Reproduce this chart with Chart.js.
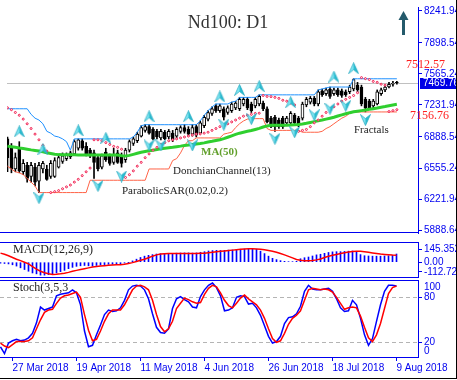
<!DOCTYPE html>
<html><head><meta charset="utf-8">
<script src="https://cdn.jsdelivr.net/npm/chart.js@4.4.0/dist/chart.umd.min.js"></script>
<style>
body{margin:0;background:#fff;}
#wrap{position:relative;width:457px;height:380px;overflow:hidden;background:#fff}
#wrap canvas{position:absolute;left:0}
#frame{position:absolute;left:0;top:0;width:456px;height:378px;border-right:1px solid #000;border-bottom:1px solid #000;pointer-events:none}
</style></head>
<body><div id="wrap">
<canvas id="cMain" width="457" height="240" style="top:0"></canvas>
<canvas id="cMacd" width="457" height="36" style="top:242px"></canvas>
<canvas id="cStoch" width="457" height="100" style="top:280px"></canvas>
<div id="frame"></div>
</div>
<script>
// ---------- categories (trading days) ----------
const dates = (() => {
  const M = ['Jan','Feb','Mar','Apr','May','Jun','Jul','Aug','Sep','Oct','Nov','Dec'];
  const holidays = ['2018-03-30'];
  const out = []; const d = new Date(Date.UTC(2018, 2, 22));
  while (out.length < 100) {
    const wd = d.getUTCDay(), iso = d.toISOString().slice(0, 10);
    if (wd !== 0 && wd !== 6 && !holidays.includes(iso)) out.push(d.getUTCDate() + ' ' + M[d.getUTCMonth()] + ' ' + d.getUTCFullYear());
    d.setUTCDate(d.getUTCDate() + 1);
  }
  return out;
})();
const xTickLabels = ['27 Mar 2018','19 Apr 2018','11 May 2018','4 Jun 2018','26 Jun 2018','18 Jul 2018','9 Aug 2018'];
const priceTicks = [8241.94, 7898.54, 7565.24, 7231.94, 6888.54, 6555.24, 6221.94, 5888.64];
const macdTicks = [145.352, 0, -112.727];
const macdTickLabels = ['145.352', '0.00', '-112.727'];
const stochTicks = [80, 20];
const stochLevels = [80, 20];

// ---------- OHLC ----------
const opens = [6868,6767,6545,6767,6515,6585,6464,6565,6414,6545,6545,6464,6464,6565,6626,6656,6676,6706,6767,6848,
6787,6747,6717,6666,6565,6727,6686,6616,6717,6686,6646,6747,6818,6848,6898,6959,6999,6969,6949,6878,
6939,6888,6929,6898,6949,6989,6969,6919,6999,6929,7009,7080,7141,7222,7171,7191,7151,7171,7201,7191,
7242,7292,7242,7222,7242,7252,7191,7090,7100,7070,7090,7040,7040,7120,7090,7090,7232,7262,7302,7242,
7383,7353,7403,7353,7393,7383,7373,7373,7403,7444,7424,7292,7272,7222,7242,7353,7393,7424,7454,7475];
const highs = [6888,6818,6717,6838,6646,6616,6616,6605,6616,6626,6585,6636,6666,6696,6717,6717,6737,6858,6868,6868,
6828,6767,6747,6696,6706,6767,6706,6767,6747,6717,6767,6858,6888,6939,7009,7020,7020,6989,6969,6969,
6959,6969,6959,6989,7009,7020,6999,7020,7020,7060,7120,7171,7211,7242,7242,7211,7222,7262,7272,7313,
7313,7313,7262,7313,7340,7272,7211,7110,7120,7090,7110,7110,7161,7141,7110,7262,7313,7323,7323,7393,
7403,7414,7424,7414,7414,7403,7393,7444,7512.57,7474,7444,7313,7292,7292,7393,7414,7444,7474,7484,7484];
const lows = [6515,6504,6515,6504,6484,6404,6404,6363,6292,6504,6424,6444,6454,6555,6605,6636,6656,6696,6747,6747,
6686,6666,6444,6525,6545,6626,6585,6595,6605,6565,6616,6727,6797,6828,6888,6939,6919,6858,6868,6858,
6858,6868,6838,6878,6929,6929,6898,6898,6888,6919,6989,7060,7120,7151,7151,7070,7131,7151,7181,7171,
7222,7181,7151,7201,7222,7171,7040,6989,6949,6979,6979,7020,7020,7020,6999,7070,7212,7242,7222,7222,
7323,7333,7302,7333,7323,7313,7323,7353,7383,7373,7222,7156.76,7191,7201,7232,7333,7373,7414,7434,7454];
const closes = [6666,6545,6666,6525,6605,6444,6585,6403,6585,6605,6434,6605,6636,6666,6686,6696,6717,6838,6858,6767,
6706,6686,6616,6545,6686,6646,6605,6696,6616,6605,6747,6838,6868,6919,6989,6999,6929,6868,6888,6949,
6868,6949,6858,6969,6989,6949,6919,6989,6908,7040,7100,7151,7191,7171,7222,7100,7201,7242,7252,7292,
7292,7201,7171,7292,7323,7191,7050,6999,6999,6999,6999,7090,7141,7040,7020,7242,7292,7302,7242,7373,
7343,7393,7323,7393,7343,7333,7343,7424,7504,7393,7242,7201,7201,7272,7373,7393,7424,7454,7464,7469.76];

// ---------- indicators on price ----------
const ma50 = [6790,6784,6777,6770,6764,6757,6750,6744,6737,6730,6720,6712,6704,6699,6697,6697,6697,6697,6696,6696,
6696,6695,6695,6695,6695,6694,6694,6694,6694,6686,6683,6691,6702,6714,6724,6732,6740,6747,6754,6761,
6767,6773,6778,6784,6790,6797,6802,6808,6814,6819,6825,6834,6842,6851,6859,6870,6885,6901,6916,6929,
6939,6949,6957,6969,6981,6995,7007,7013,7013,7013,7013,7014,7017,7020,7023,7027,7035,7044,7053,7061,
7070,7080,7090,7100,7113,7125,7137,7149,7159,7165,7171,7177,7185,7192,7199,7208,7215,7223,7231,7239];
const donchUpper = [7191,7191,7191,7191,7191,7191,7131,7090,7070,7030,6949,6929,6898,6888,6868,6838,6747,6868,6868,6868,
6868,6868,6868,6868,6868,6868,6868,6868,6868,6868,6868,6868,6888,6939,7009,7020,7020,7020,7020,7020,
7020,7020,7020,7020,7020,7020,7020,7020,7020,7060,7120,7171,7211,7242,7242,7242,7242,7262,7272,7313,
7313,7313,7313,7313,7340,7340,7340,7340,7340,7340,7340,7340,7340,7340,7340,7340,7340,7340,7340,7393,
7403,7414,7424,7424,7424,7424,7424,7424,7512.57,7512.57,7512.57,7512.57,7512.57,7512.57,7512.57,7512.57,7512.57,7512.57,7512.57,7512.57];
const donchLower = [6575,6545,6515,6504,6484,6444,6404,6363,6292,6292,6292,6292,6292,6292,6292,6292,6292,6292,6292,6292,
6292,6424,6424,6424,6424,6424,6424,6424,6424,6424,6424,6424,6424,6424,6424,6424,6545,6545,6545,6545,
6545,6545,6636,6656,6717,6797,6848,6848,6878,6878,6878,6878,6878,6878,6878,6919,6929,6939,6989,7030,
7060,7080,7085,7085,7085,7085,6979,6959,6959,6959,6959,6959,6959,6959,6959,6939,6939,6939,6939,6939,
6949,6979,6999,7030,7060,7090,7110,7141,7156.76,7156.76,7156.76,7156.76,7156.76,7156.76,7156.76,7156.76,7156.76,7156.76,7156.76,7156.76];
const sar = [7201,7181,7151,7121,7080,7030,6979,6919,6858,6797,6737,6292,6302,6313,6333,6353,6373,6404,6434,6474,
6515,6555,6858,6858,6848,6828,6808,6787,6777,6757,6454,6484,6525,6575,6616,6666,6707,6747,6777,6808,
6828,6848,6858,6868,6878,6888,6898,6909,6919,6921,6929,6939,6959,6979,6999,7010,7030,7050,7070,7090,
7111,7121,7131,7141,7143,7333,7323,7321,7313,7302,7282,7272,7252,7232,6949,6959,6969,6999,7040,7070,
7111,7151,7181,7212,7242,7272,7292,7313,7333,7363,7525,7514,7504,7484,7474,7454,7444,7161,7171,7181];
const fractalUpBars = [3,9,18,25,36,46,54,59,64,72,83,88];
const fractalUpVals = [6949,6757,6959,6878,7110,7110,7323,7393,7434,7262,7535,7626];
const fractalDnBars = [8,23,29,36,39,47,55,62,68,73,78,82,86,91];
const fractalDnVals = [6232,6363,6464,6797,6797,6797,7020,7080,6868,6939,7121,7191,7222,7070];

// ---------- MACD ----------
const macdHist = [-10,-15,-20,-30,-45,-65,-85,-105,-125,-135,-150,-150,-145,-135,-125,-110,-95,-75,-60,-48,
-42,-38,-42,-45,-38,-32,-28,-25,-24,-22,-18,-10,-2,15,35,55,70,80,88,95,
98,100,100,102,105,107,108,108,106,108,115,122,130,135,138,136,137,140,142,147,
150,152,150,150,150,128,100,70,45,30,18,10,6,6,10,40,52,60,72,85,
92,103,113,120,122,122,125,128,130,115,88,75,72,70,70,70,72,75,80,95];
const macdSignal = [105,92,75,55,35,18,0,-20,-50,-80,-105,-122,-135,-142,-140,-135,-128,-118,-106,-95,
-85,-75,-66,-57,-50,-44,-40,-36,-33,-31,-29,-24,-15,-5,8,22,35,52,70,85,
95,99,100,101,101,101,101,102,102,102,103,105,110,116,122,127,131,135,140,145,
150,153,155,155,154,150,145,137,128,115,100,85,68,50,32,22,18,18,20,27,
38,55,68,80,90,100,110,118,125,128,127,122,115,108,102,95,90,86,83,82];

// ---------- Stochastic ----------
const stochK = [14,5,19,22,24,22,23,26,32,46,67,63,65,67,82,84,85,86,90,86,
70,35,14,16,30,43,57,63,61,62,66,76,90,95,96,95,90,78,58,40,
33,32,38,65,78,81,77,74,67,66,81,90,96,99,93,82,62,63,66,80,
82,81,71,72,66,56,42,28,19,21,28,45,53,54,58,68,88,96,91,90,
90,91,92,88,78,66,61,62,76,70,52,30,16,25,48,70,88,96,96,95];
const stochD = [19,15,13,17,21,21,21,22,26,38,50,60,63,64,72,79,82,83,85,87,
80,57,36,22,24,35,48,58,63,63,63,70,80,90,95,96,94,90,76,57,
41,34,38,48,65,72,79,77,74,72,73,84,92,96,94,86,76,69,66,72,
79,83,78,74,70,63,52,38,25,20,22,32,44,52,56,62,76,90,92,91,
90,91,90,87,80,72,64,66,67,66,55,40,26,21,30,45,65,85,93,95];

// ---------- helpers ----------
const N = dates.length;
const XMIN = -0.125, XMAX = -0.125 + 418 / 4;
const AXW = 39;
const BLUE = '#0000f0';
const TICKFONT = {family: 'Liberation Sans', size: 10};
const pts = arr => arr.map((v, i) => ({x: i, y: v}));
const sparse = (bars, vals) => bars.map((b, k) => ({x: b, y: vals[k]}));
const fitY = s => { s.width = AXW; s.paddingTop = 0; s.paddingBottom = 0; };
const xHidden = {type: 'linear', min: XMIN, max: XMAX, offset: false, grid: {offset: false}, display: false};
const base = {responsive: false, animation: false, events: [], layout: {padding: 0},
  plugins: {legend: {display: false}, tooltip: {enabled: false}}};

function fractalIcon(up) {
  const c = document.createElement('canvas'); c.width = 11; c.height = 12;
  const g = c.getContext('2d');
  g.save();
  if (!up) { g.translate(0, 12); g.scale(1, -1); }
  g.beginPath(); g.moveTo(5.5, 0.5); g.lineTo(10.5, 11.5); g.lineTo(5.5, 7.5); g.lineTo(0.5, 11.5); g.closePath();
  g.fillStyle = '#7fe6f2'; g.fill();
  g.beginPath(); g.moveTo(5.5, 0.5); g.lineTo(10.5, 11.5); g.lineTo(5.5, 7.5); g.closePath();
  g.fillStyle = '#2cbcd0'; g.fill();
  g.beginPath(); g.moveTo(5.5, 0.5); g.lineTo(10.5, 11.5); g.lineTo(5.5, 7.5); g.lineTo(0.5, 11.5); g.closePath();
  g.strokeStyle = '#22a8bf'; g.lineWidth = 0.7; g.stroke();
  g.restore();
  return c;
}

// ---------- MAIN ----------
const mainDecor = {
  id: 'mainDecor',
  beforeDatasetsDraw(chart) {
    const {ctx, chartArea: a, scales: {y}} = chart;
    const py = Math.round(y.getPixelForValue(closes[N - 1])) + 0.5;
    ctx.save(); ctx.strokeStyle = '#c0c0c0'; ctx.lineWidth = 1;
    ctx.beginPath(); ctx.moveTo(a.left, py); ctx.lineTo(a.right, py); ctx.stroke(); ctx.restore();
  },
  afterDraw(chart) {
    const {ctx, chartArea: a, scales: {y}} = chart;
    ctx.save();
    ctx.strokeStyle = BLUE; ctx.lineWidth = 1;
    ctx.beginPath(); ctx.moveTo(0, a.bottom - 0.5); ctx.lineTo(a.right, a.bottom - 0.5); ctx.stroke();
    ctx.fillStyle = '#333'; ctx.font = '18px "Liberation Serif"'; ctx.textAlign = 'center'; ctx.textBaseline = 'middle';
    ctx.fillText('Nd100: D1', 228, 23);
    ctx.fillStyle = '#245a6b';
    ctx.beginPath(); ctx.moveTo(403.5, 11); ctx.lineTo(408.5, 20); ctx.lineTo(398.5, 20); ctx.closePath(); ctx.fill();
    ctx.fillRect(402, 19, 3, 16);
    ctx.textAlign = 'left';
    ctx.font = 'bold 11px "Liberation Serif"'; ctx.fillStyle = '#62a02c';
    ctx.fillText('MA(50)', 201, 152);
    ctx.font = '11px "Liberation Serif"'; ctx.fillStyle = '#222';
    ctx.fillText('DonchianChannel(13)', 173, 171);
    ctx.fillText('ParabolicSAR(0.02,0.2)', 122, 191);
    ctx.fillText('Fractals', 354, 130);
    ctx.font = '12px "Liberation Serif"'; ctx.fillStyle = '#ff2020';
    const up = donchUpper[N - 1], lo = donchLower[N - 1];
    ctx.fillText(up.toFixed(2), 406, y.getPixelForValue(up) - 14);
    ctx.fillText(lo.toFixed(2), 410, y.getPixelForValue(lo) + 4);
    const pc = y.getPixelForValue(closes[N - 1]);
    ctx.fillStyle = '#0000e6'; ctx.fillRect(420, Math.round(pc) - 5, 37, 11);
    ctx.fillStyle = '#fff'; ctx.font = '10px "Liberation Sans"';
    ctx.fillText(closes[N - 1].toFixed(2), 423, Math.round(pc) + 0.5);
    ctx.restore();
  }
};

new Chart(document.getElementById('cMain'), {
  type: 'bar',
  data: {datasets: [
    {type: 'scatter', label: 'FractalsUp', data: sparse(fractalUpBars, fractalUpVals), pointStyle: fractalIcon(true), pointRadius: 6, order: 0},
    {type: 'scatter', label: 'FractalsDn', data: sparse(fractalDnBars, fractalDnVals), pointStyle: fractalIcon(false), pointRadius: 6, order: 0},
    {type: 'scatter', label: 'SAR', data: pts(sar), pointStyle: 'circle', pointRadius: 1, borderWidth: 1, borderColor: '#f0184a', backgroundColor: '#fff', order: 1},
    {type: 'line', label: 'MA50', data: pts(ma50), borderColor: '#2fcf2f', borderWidth: 3, pointRadius: 0, tension: 0, order: 2},
    {type: 'line', label: 'DonchUp', data: pts(donchUpper), borderColor: '#1e90ff', borderWidth: 1, pointRadius: 0, tension: 0, order: 3},
    {type: 'line', label: 'DonchLo', data: pts(donchLower), borderColor: '#ff6347', borderWidth: 1, pointRadius: 0, tension: 0, order: 3},
    {type: 'bar', label: 'Body', data: opens.map((o, i) => ({x: i, y: [o, closes[i]]})), barThickness: 3, grouped: false,
      backgroundColor: opens.map((o, i) => closes[i] >= o ? '#fff' : '#000'), borderColor: '#000', borderWidth: 1, borderSkipped: false, order: 5},
    {type: 'bar', label: 'Wick', data: lows.map((l, i) => ({x: i, y: [l, highs[i]]})), barThickness: 1, grouped: false,
      backgroundColor: '#000', borderWidth: 0, order: 6}
  ]},
  options: Object.assign({}, base, {
    scales: {
      x: xHidden,
      y: {position: 'right', min: 5858.34, max: 8282.34, afterFit: fitY,
        afterBuildTicks: s => { s.ticks = priceTicks.map(v => ({value: v})); },
        ticks: {autoSkip: false, padding: 2, color: BLUE, font: TICKFONT, callback: v => v.toFixed(2)},
        grid: {drawOnChartArea: false, tickLength: 4, color: BLUE}, border: {color: BLUE}}
    }
  }),
  plugins: [mainDecor]
});

// ---------- MACD ----------
const panelDecor = (title, ty) => ({
  id: 'panelDecor',
  afterDraw(chart) {
    const {ctx, chartArea: a} = chart;
    ctx.save(); ctx.strokeStyle = BLUE; ctx.lineWidth = 1;
    ctx.beginPath(); ctx.moveTo(0, a.top + 0.5); ctx.lineTo(a.right, a.top + 0.5);
    ctx.moveTo(0, a.bottom - 0.5); ctx.lineTo(a.right, a.bottom - 0.5); ctx.stroke();
    ctx.fillStyle = '#222'; ctx.font = '12px "Liberation Serif"'; ctx.textBaseline = 'middle'; ctx.textAlign = 'left';
    ctx.fillText(title, 13, ty);
    ctx.restore();
  }
});
new Chart(document.getElementById('cMacd'), {
  type: 'bar',
  data: {datasets: [
    {type: 'line', label: 'Signal', data: pts(macdSignal), borderColor: '#ff0000', borderWidth: 1.5, pointRadius: 0, tension: 0, order: 0},
    {type: 'bar', label: 'MACD', data: pts(macdHist), barThickness: 1, backgroundColor: '#0000ff', borderWidth: 0, order: 1}
  ]},
  options: Object.assign({}, base, {
    scales: {
      x: xHidden,
      y: {position: 'right', min: -183.3, max: 234.3, afterFit: fitY,
        afterBuildTicks: s => { s.ticks = macdTicks.map(v => ({value: v})); },
        ticks: {autoSkip: false, padding: 2, color: BLUE, font: TICKFONT, callback: v => macdTickLabels[macdTicks.indexOf(v)]},
        grid: {drawOnChartArea: false, tickLength: 4, color: BLUE}, border: {color: BLUE}}
    }
  }),
  plugins: [panelDecor('MACD(12,26,9)', 8)]
});

// ---------- Stochastic ----------
const stochDecor = {
  id: 'stochDecor',
  beforeDatasetsDraw(chart) {
    const {ctx, chartArea: a, scales: {y}} = chart;
    ctx.save(); ctx.strokeStyle = '#b4b4b4'; ctx.lineWidth = 1; ctx.setLineDash([4, 3]);
    stochLevels.forEach(l => { const p = Math.round(y.getPixelForValue(l)) + 0.5;
      ctx.beginPath(); ctx.moveTo(a.left, p); ctx.lineTo(a.right, p); ctx.stroke(); });
    ctx.restore();
  },
  afterDraw(chart) {
    const {ctx, chartArea: a, scales: {y}} = chart;
    ctx.save(); ctx.strokeStyle = BLUE; ctx.lineWidth = 1;
    ctx.beginPath(); ctx.moveTo(0, a.top + 0.5); ctx.lineTo(a.right, a.top + 0.5); ctx.stroke();
    ctx.fillStyle = '#222'; ctx.font = '12px "Liberation Serif"'; ctx.textBaseline = 'middle'; ctx.textAlign = 'left';
    ctx.fillText('Stoch(3,5,3', 13, 8);
    ctx.fillStyle = BLUE; ctx.font = '10px "Liberation Sans"';
    ctx.fillText('100', 424, y.getPixelForValue(100) + 5);
    ctx.fillText('0', 424, y.getPixelForValue(0) - 6);
    ctx.restore();
  }
};
new Chart(document.getElementById('cStoch'), {
  type: 'line',
  data: {datasets: [
    {label: '%D', data: pts(stochD), borderColor: '#ff0000', borderWidth: 1.5, pointRadius: 0, tension: 0},
    {label: '%K', data: pts(stochK), borderColor: '#0000ff', borderWidth: 1.5, pointRadius: 0, tension: 0}
  ]},
  options: Object.assign({}, base, {
    scales: {
      x: {type: 'linear', min: XMIN, max: XMAX, offset: false, position: 'bottom',
        afterFit: s => { s.height = 23; s.paddingLeft = 0; s.paddingRight = 0; },
        afterBuildTicks: s => { s.ticks = xTickLabels.map(l => ({value: dates.indexOf(l)})); },
        ticks: {autoSkip: false, maxRotation: 0, minRotation: 0, align: 'start', padding: 1, color: BLUE, font: TICKFONT,
          callback: v => dates[v]},
        grid: {offset: false, drawOnChartArea: false, tickLength: 4, color: BLUE}, border: {color: BLUE}},
      y: {position: 'right', min: 0.4, max: 103.1, afterFit: fitY,
        afterBuildTicks: s => { s.ticks = stochTicks.map(v => ({value: v})); },
        ticks: {autoSkip: false, padding: 2, color: BLUE, font: TICKFONT},
        grid: {drawOnChartArea: false, tickLength: 4, color: BLUE}, border: {color: BLUE}}
    }
  }),
  plugins: [stochDecor]
});
</script>
</body></html>
